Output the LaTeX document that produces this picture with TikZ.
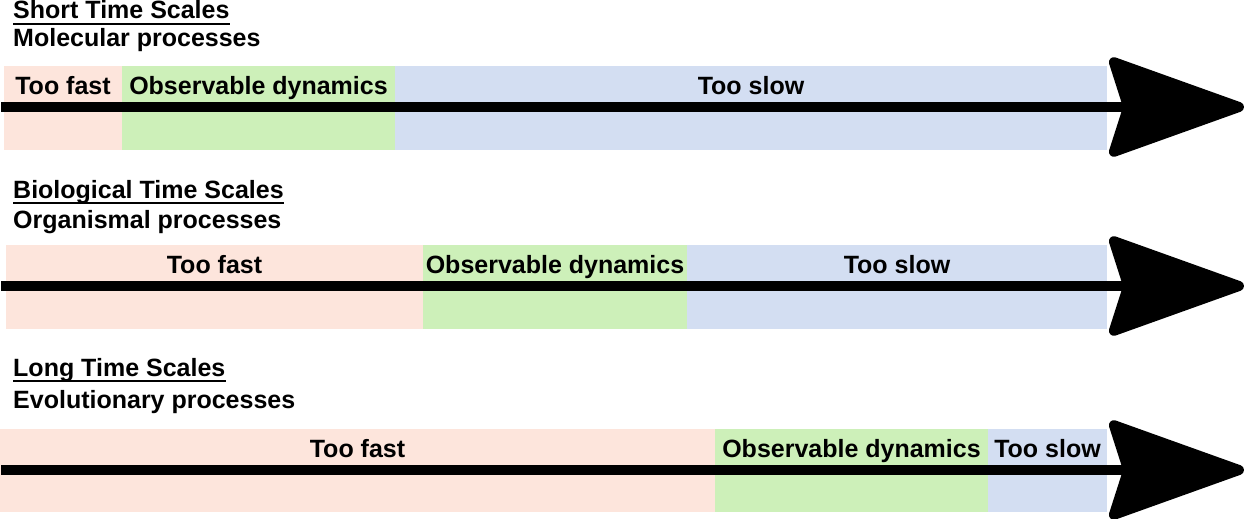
\documentclass[tikz,border=0pt]{standalone}
\usepackage{fontspec}
\setmainfont{Liberation Sans}
\usetikzlibrary{arrows.meta}
\begin{document}
\begin{tikzpicture}[x=1pt,y=-1pt,font=\fontsize{25}{30}\selectfont\bfseries,
  seglabel/.style={inner sep=0pt, anchor=base},
  heading/.style={inner sep=0pt, anchor=base west},
  timeline/.style={line width=10pt, -{Stealth[length=147pt,width=104pt,inset=16pt,round]}}]
\definecolor{too fast}{HTML}{FDE5DC}
\definecolor{observable}{HTML}{CDF0B9}
\definecolor{too slow}{HTML}{D3DEF2}
\def\bandend{1107}
\useasboundingbox (0,0) rectangle (1244,519);

\foreach \r/\top/\bot/\xa/\xb/\xc/\ttl/\sub/\yt/\ys in {
  short/66/150/4/122/395/Short Time Scales/Molecular processes/19/47,
  bio/245/329/6/423/687/Biological Time Scales/Organismal processes/198/228,
  long/429/512/0/715/988/Long Time Scales/Evolutionary processes/376/408}{
    % the three bands of a row
    \fill[too fast] (\xa,\top) rectangle (\xb,\bot);
    \fill[observable] (\xb,\top) rectangle (\xc,\bot);
    \fill[too slow] (\xc,\top) rectangle (\bandend,\bot);
    \node[seglabel] (\r-fast) at ({(\xa+\xb)/2},\top+28) {Too fast};
    \node[seglabel] (\r-obs) at ({(\xb+\xc)/2},\top+28) {Observable dynamics};
    \node[seglabel] (\r-slow) at ({(\xc+\bandend)/2},\top+28) {Too slow};
    % headings
    \node[heading] (\r-title) at (13,\yt) {\ttl};
    \draw[line width=2pt] ([yshift=-5pt]\r-title.base west) -- ([yshift=-5pt]\r-title.base east);
    \node[heading] (\r-sub) at (13,\ys) {\sub};
    % time axis
    \coordinate (\r-start) at (1,\top+41);
    \coordinate (\r-end) at (1244,\top+41);
    \draw[timeline] (\r-start) -- (\r-end);
}
\end{tikzpicture}
\end{document}
